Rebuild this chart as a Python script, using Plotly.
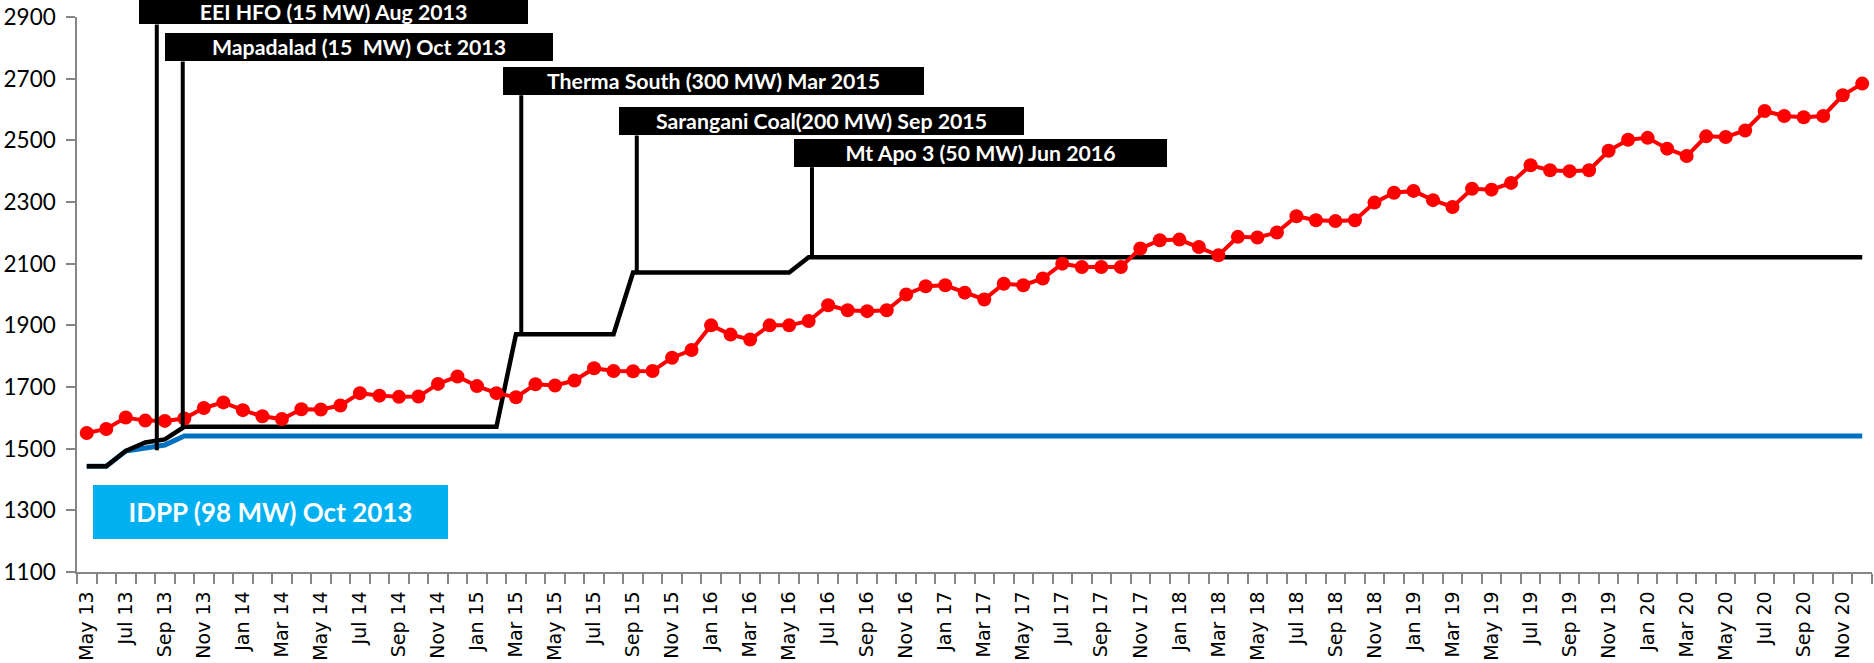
import plotly.graph_objects as go
import pandas as pd

# ---- data -------------------------------------------------------------
months = [d.strftime("%b %y") for d in pd.date_range("2013-05-01", "2020-12-01", freq="MS")]

demand = [1551, 1564, 1601, 1591, 1590, 1598, 1632, 1650,
          1625, 1605, 1596, 1628, 1627, 1640, 1680, 1672, 1668, 1669, 1710, 1734,
          1703, 1680, 1667, 1709, 1705, 1721, 1761, 1752, 1751, 1752, 1795, 1820,
          1900, 1870, 1854, 1900, 1900, 1914, 1965, 1949, 1946, 1949, 2000, 2027,
          2030, 2006, 1984, 2035, 2030, 2052, 2100, 2089, 2089, 2089, 2149, 2176,
          2178, 2154, 2127, 2187, 2185, 2201, 2254, 2241, 2238, 2241, 2298, 2330,
          2336, 2306, 2284, 2343, 2340, 2362, 2419, 2403, 2400, 2403, 2466, 2502,
          2508, 2473, 2449, 2513, 2511, 2532, 2595, 2579, 2575, 2579, 2646, 2684]

supply_base = [1443, 1443, 1492, 1502, 1512] + [1541] * 87
supply_new = [1443, 1443, 1493, 1520, 1530] + [1571] * 17 + [1871] * 6 + [2071] * 9 + [2121] * 55

tick_labels = months[::2]

callout_text = ["EEI HFO (15 MW) Aug 2013", "Mapadalad (15  MW) Oct 2013",
                "Therma South (300 MW) Mar 2015", "Sarangani Coal(200 MW) Sep 2015",
                "Mt Apo 3 (50 MW) Jun 2016"]
callout_x = [3.59, 4.92, 22.27, 28.19, 37.17]          # leader position (month index)
callout_end = [1495, 1571, 1871, 2071, 2121]            # leader lower end (MW)
callout_box = [2876, 2756, 2646, 2516, 2413]            # box bottom (MW)
callout_w = [389, 388, 421, 405, 373]
callout_h = [24, 28, 28, 28, 28]

idpp_text = "IDPP (98 MW) Oct 2013"

x = list(range(len(months)))

# ---- figure -----------------------------------------------------------
fig = go.Figure()
fig.add_trace(go.Scatter(x=x, y=supply_base, mode="lines",
                         line=dict(color="#0070C0", width=5), hoverinfo="skip"))
fig.add_trace(go.Scatter(x=x, y=supply_new, mode="lines",
                         line=dict(color="#000000", width=4.5), hoverinfo="skip"))
fig.add_trace(go.Scatter(x=x, y=demand, mode="lines+markers",
                         line=dict(color="#FF0000", width=4),
                         marker=dict(color="#FF0000", size=14), hoverinfo="skip"))

shapes = []
annotations = []
for t, cx, ce, cb, w, h in zip(callout_text, callout_x, callout_end, callout_box, callout_w, callout_h):
    shapes.append(dict(type="line", xref="x", yref="y", x0=cx, x1=cx, y0=ce, y1=cb,
                       line=dict(color="#000000", width=4)))
    annotations.append(dict(xref="x", yref="y", x=cx, y=cb, xanchor="left", yanchor="bottom",
                            xshift=-18, text=t, showarrow=False, bgcolor="#000000",
                            width=w, height=h, borderpad=0, borderwidth=0, align="center",
                            font=dict(family="Lato", size=21.3, color="#FFFFFF", weight="bold")))

annotations.append(dict(xref="x", yref="y", x=0, y=1293, xanchor="left", yanchor="middle",
                        xshift=6.5, text=idpp_text, showarrow=False, bgcolor="#00B0F0",
                        width=355, height=54, borderpad=0, borderwidth=0, align="center",
                        font=dict(family="Lato", size=26, color="#FFFFFF", weight="bold")))

fig.update_layout(
    width=1874, height=663, autosize=False,
    margin=dict(l=77, r=2, t=17, b=91, autoexpand=False),
    paper_bgcolor="white", plot_bgcolor="white",
    showlegend=False,
    shapes=shapes, annotations=annotations,
    xaxis=dict(range=[-0.5, len(months) - 0.5], tickmode="array", automargin=False,
               tickvals=x[::2], ticktext=tick_labels, tickangle=-90,
               ticks="outside", ticklen=10, tickcolor="rgba(0,0,0,0)",
               minor=dict(tickmode="linear", tick0=-0.5, dtick=1, ticks="outside",
                          ticklen=10, tickcolor="#868686", tickwidth=1.5),
               showline=True, linecolor="#868686", linewidth=1.5,
               showgrid=False, zeroline=False,
               tickfont=dict(family="DejaVu Sans", size=19, color="#000000")),
    yaxis=dict(range=[1100, 2900], tickmode="linear", tick0=1100, dtick=200, automargin=False,
               ticks="outside", ticklen=9, tickcolor="#868686", tickwidth=1.5,
               showline=True, linecolor="#868686", linewidth=1.5,
               showgrid=False, zeroline=False, ticklabelstandoff=6,
               tickfont=dict(family="Lato", size=22.5, color="#000000")),
)

fig.write_html("out.html", config={"displayModeBar": False},
               post_script="document.body.style.margin='0';document.body.style.overflow='hidden';")
